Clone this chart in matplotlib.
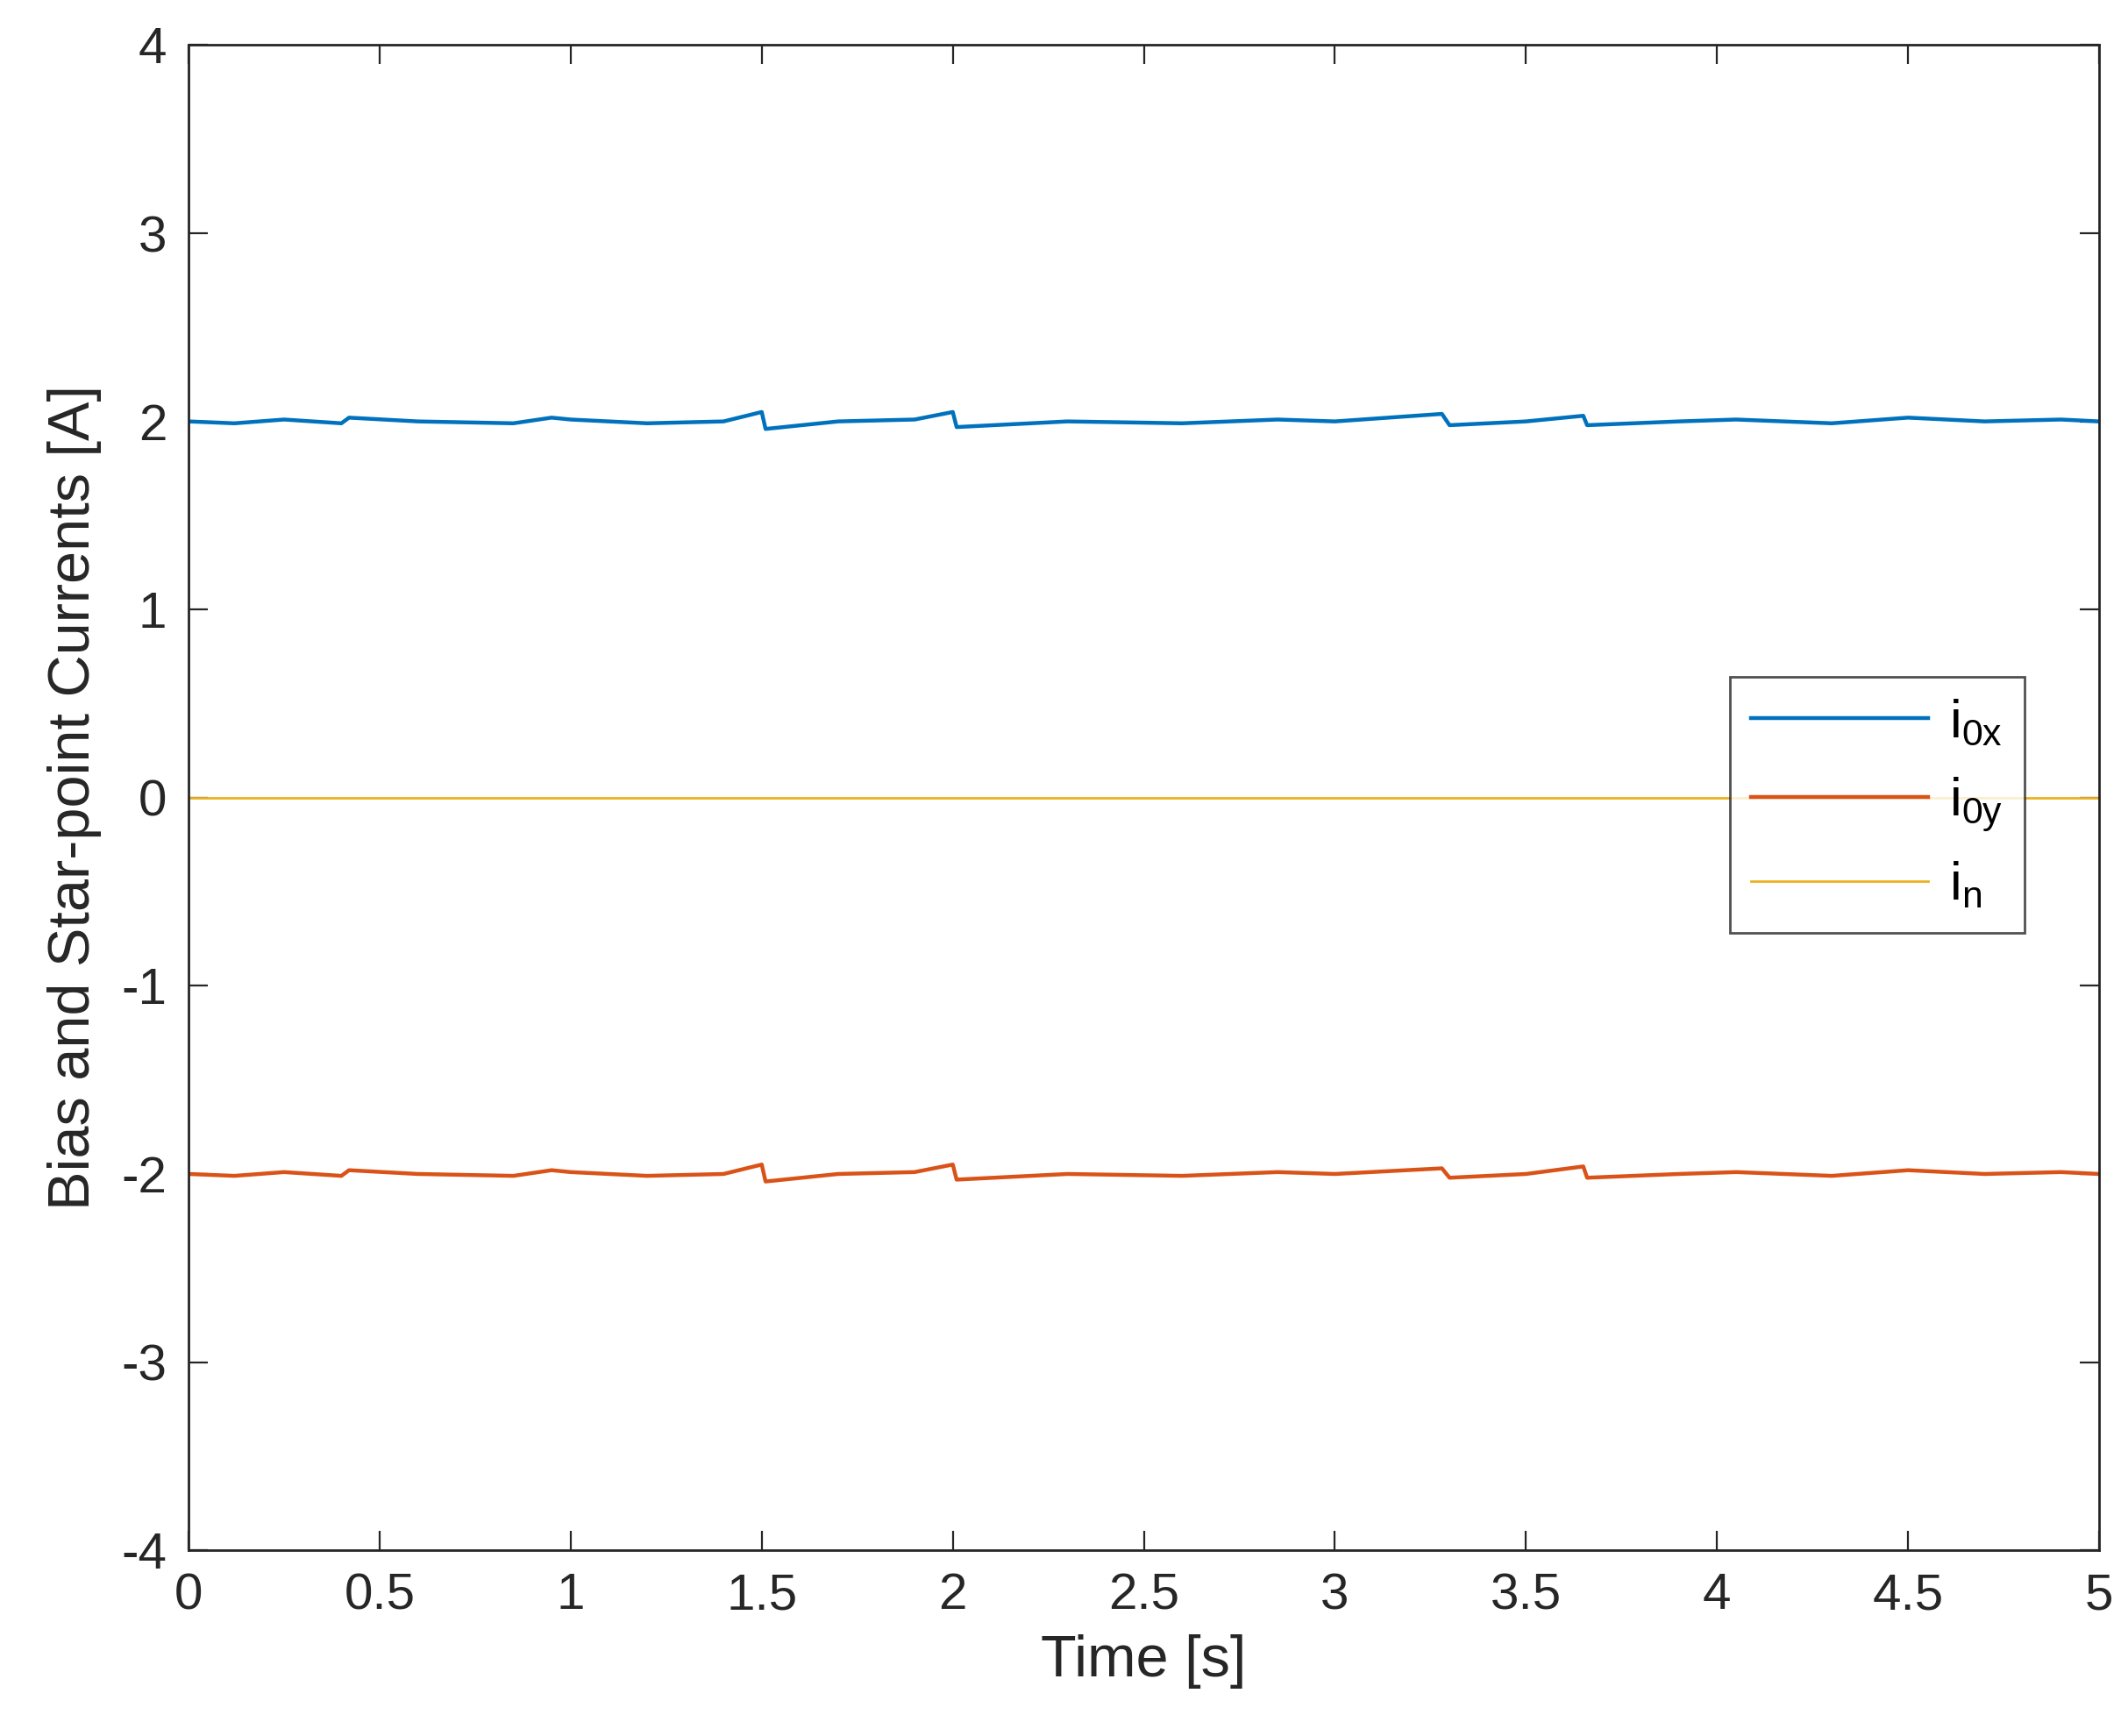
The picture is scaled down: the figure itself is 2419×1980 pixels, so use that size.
import matplotlib
matplotlib.use("Agg")
import matplotlib.pyplot as plt
import numpy as np

plt.rcParams['font.family'] = ['Liberation Sans', 'DejaVu Sans']
plt.rcParams['axes.unicode_minus'] = False
plt.rcParams['mathtext.fontset'] = 'custom'
plt.rcParams['mathtext.rm'] = 'Liberation Sans'

# sample times [s] and read-off values (small ripple around set points)
time = [0.0, 0.12, 0.25, 0.4, 0.42, 0.6, 0.85, 0.95, 1.0, 1.2, 1.4, 1.5, 1.51, 1.7, 1.9, 2.0, 2.01,
        2.3, 2.6, 2.85, 3.0, 3.28, 3.3, 3.5, 3.65, 3.66, 3.9, 4.05, 4.3, 4.5, 4.7, 4.9, 5.0]
i0x = [2.0, 1.99, 2.01, 1.99, 2.02, 2.0, 1.99, 2.02, 2.01, 1.99, 2.0, 2.05, 1.96, 2.0, 2.01, 2.05, 1.97,
       2.0, 1.99, 2.01, 2.0, 2.04, 1.98, 2.0, 2.03, 1.98, 2.0, 2.01, 1.99, 2.02, 2.0, 2.01, 2.0]
i0y = [-2.0, -2.01, -1.99, -2.01, -1.98, -2.0, -2.01, -1.98, -1.99, -2.01, -2.0, -1.95, -2.04, -2.0, -1.99, -1.95, -2.03,
       -2.0, -2.01, -1.99, -2.0, -1.97, -2.02, -2.0, -1.96, -2.02, -2.0, -1.99, -2.01, -1.98, -2.0, -1.99, -2.0]
i_n = [0.0] * len(time)

fig = plt.figure(figsize=(12.095, 9.9), dpi=200)
ax = fig.add_axes([0.0889, 0.107, 0.9008, 0.867])
ax.plot(time, i0x, color='#0072BD', lw=1.6, label=r'i$_{\mathregular{0x}}$')
ax.plot(time, i0y, color='#D95319', lw=1.6, label=r'i$_{\mathregular{0y}}$')
ax.plot(time, i_n, color='#EDB120', lw=1.0, label=r'i$_{\mathregular{n}}$')
ax.set_xlim(0, 5)
ax.set_ylim(-4, 4)
ax.set_xticks(np.arange(0, 5.01, 0.5))
ax.set_xticklabels(['0', '0.5', '1', '1.5', '2', '2.5', '3', '3.5', '4', '4.5', '5'])
ax.set_yticks(range(-4, 5))
ax.tick_params(direction='in', top=True, right=True, labelsize=21, length=8, colors='#262626', pad=9)
for s in ax.spines.values():
    s.set_color('#262626')
    s.set_linewidth(1.0)
ax.set_xlabel('Time [s]', fontsize=24, color='#262626', labelpad=6)
ax.set_ylabel('Bias and Star-point Currents [A]', fontsize=24, color='#262626', labelpad=8)
leg = ax.legend(loc='upper right', bbox_to_anchor=(0.975, 0.598), fontsize=22, fancybox=False,
                edgecolor='#262626', handlelength=3.3, borderpad=0.4, labelspacing=0.5,
                handletextpad=0.4)
leg.get_frame().set_linewidth(1.0)
fig.savefig('out.png')
